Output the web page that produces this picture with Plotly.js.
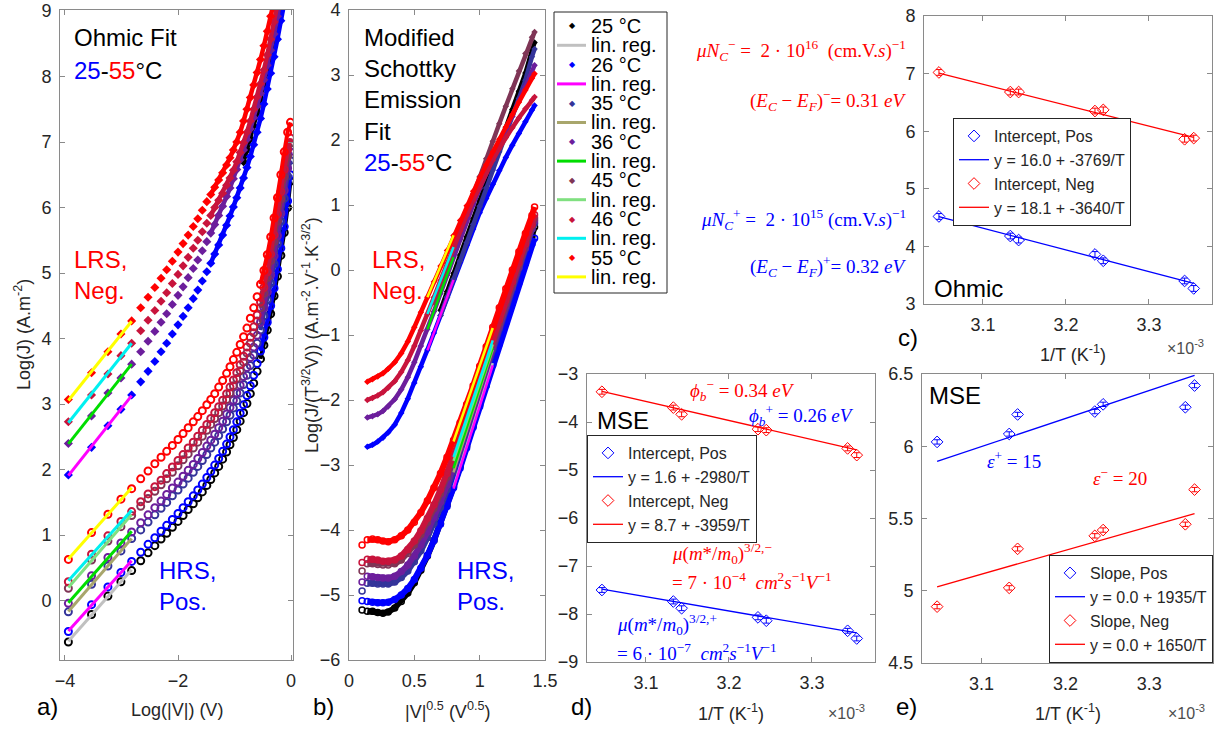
<!DOCTYPE html>
<html><head><meta charset="utf-8">
<script src="https://cdn.plot.ly/plotly-3.0.1.min.js"></script>
<style>html,body{margin:0;padding:0;background:#fff}#chart{width:1227px;height:733px}</style>
</head><body><div id="chart"></div>
<script>
const W = 1227, H = 733;
const FONT = 'Liberation Sans, Arial, sans-serif';
const SERIF = 'Liberation Serif, Times New Roman, serif';

// ---------- categories ----------
const temps = ['25', '26', '35', '36', '45', '46', '55'];
const tempColors = ['#000000', '#0000ff', '#34349a', '#6c1e9c', '#7f3556', '#c8143c', '#ff0000'];
const regColors = ['#c0c0c0', '#ff00ff', '#a8a66c', '#00dd00', '#80e080', '#00f0f0', '#ffff00'];

// ---------- panel a: Log(J) vs Log(|V|) ----------
const aLogV = [-3.94,-3.53,-3.24,-3.01,-2.82,-2.66,-2.53,-2.41,-2.30,-2.20,-2.10,-2.00,-1.91,-1.82,-1.73,-1.65,-1.57,-1.49,-1.42,-1.35,-1.28,-1.21,-1.14,-1.08,-1.02,-0.96,-0.90,-0.84,-0.78,-0.72,-0.66,-0.60,-0.54,-0.48,-0.42,-0.36,-0.30,-0.24,-0.18,-0.12,-0.06,-0.01];
// LRS, negative polarity
const aLRS_25 = [null,null,null,null,null,null,null,null,null,null,null,null,null,null,null,null,null,null,null,null,null,null,null,null,null,null,null,6.70,6.88,7.05,7.25,7.45,7.66,7.88,8.12,8.37,8.60,8.86,9.12,null,null,null];
const aLRS_26 = [1.92,2.34,2.67,2.92,3.14,3.34,3.50,3.65,3.80,3.93,4.07,4.21,4.34,4.47,4.61,4.74,4.88,5.02,5.15,5.29,5.43,5.58,5.73,5.87,6.01,6.15,6.30,6.45,6.61,6.78,6.96,7.15,7.36,7.58,7.81,8.05,8.30,8.57,8.85,9.12,null,null];
const aLRS_36 = [2.40,2.82,3.17,3.40,3.61,3.80,3.96,4.11,4.25,4.38,4.52,4.66,4.79,4.93,5.07,5.20,5.34,5.48,5.61,5.74,5.88,6.02,6.17,6.30,6.44,6.58,6.73,6.88,7.04,7.20,7.37,7.55,7.74,7.95,8.17,8.40,8.65,8.92,9.20,null,null,null];
const aLRS_46 = [2.73,3.14,3.46,3.74,3.93,4.12,4.28,4.43,4.57,4.70,4.84,4.98,5.11,5.24,5.38,5.50,5.63,5.76,5.88,6.00,6.11,6.22,6.34,6.45,6.57,6.70,6.84,6.99,7.15,7.32,7.50,7.69,7.89,8.10,8.33,8.57,8.83,9.10,null,null,null,null];
const aLRS_55 = [3.07,3.48,3.80,4.07,4.27,4.47,4.63,4.78,4.92,5.05,5.18,5.32,5.45,5.58,5.71,5.83,5.96,6.09,6.20,6.31,6.42,6.53,6.65,6.76,6.88,7.00,7.15,7.32,7.50,7.68,7.87,8.06,8.26,8.47,8.69,8.92,9.15,null,null,null,null,null];
// HRS, positive polarity
const aHRS_25 = [-0.63,-0.21,0.07,0.29,0.46,0.61,0.73,0.84,0.94,1.03,1.12,1.21,1.30,1.39,1.48,1.57,1.66,1.76,1.85,1.95,2.05,2.16,2.27,2.38,2.49,2.61,2.74,2.87,3.01,3.16,3.32,3.50,3.69,3.90,4.13,4.38,4.65,4.95,5.27,5.62,6.00,6.40];
const aHRS_26 = [-0.47,-0.06,0.21,0.43,0.60,0.74,0.86,0.96,1.06,1.15,1.24,1.33,1.42,1.51,1.60,1.69,1.78,1.88,1.97,2.07,2.17,2.28,2.39,2.50,2.61,2.73,2.86,2.99,3.13,3.28,3.44,3.62,3.81,4.02,4.25,4.50,4.77,5.06,5.38,5.71,6.10,6.50];
const aHRS_35 = [-0.17,0.25,0.53,0.76,0.95,1.08,1.20,1.31,1.41,1.50,1.60,1.69,1.78,1.87,1.96,2.05,2.14,2.23,2.33,2.42,2.52,2.62,2.73,2.83,2.94,3.05,3.17,3.30,3.44,3.59,3.75,3.93,4.13,4.35,4.59,4.85,5.14,5.45,5.79,6.14,6.48,6.72];
const aHRS_36 = [-0.04,0.38,0.66,0.88,1.05,1.19,1.31,1.42,1.52,1.62,1.72,1.81,1.90,1.99,2.08,2.17,2.26,2.36,2.45,2.54,2.64,2.74,2.85,2.95,3.06,3.17,3.29,3.42,3.56,3.71,3.87,4.05,4.25,4.47,4.71,4.97,5.26,5.57,5.91,6.26,6.60,6.85];
const aHRS_45 = [0.19,0.62,0.91,1.13,1.30,1.44,1.56,1.67,1.77,1.86,1.96,2.06,2.15,2.24,2.33,2.42,2.51,2.60,2.69,2.78,2.87,2.97,3.07,3.17,3.28,3.39,3.51,3.64,3.78,3.93,4.09,4.27,4.47,4.69,4.93,5.19,5.48,5.79,6.13,6.47,6.78,6.98];
const aHRS_46 = [0.29,0.71,0.99,1.21,1.36,1.51,1.63,1.74,1.84,1.94,2.04,2.14,2.23,2.33,2.42,2.51,2.60,2.69,2.78,2.87,2.96,3.06,3.16,3.26,3.37,3.48,3.60,3.73,3.87,4.02,4.18,4.36,4.56,4.78,5.02,5.29,5.58,5.90,6.24,6.58,6.88,7.06];
const aHRS_55 = [0.63,1.04,1.32,1.55,1.71,1.86,1.98,2.09,2.19,2.28,2.37,2.46,2.55,2.64,2.73,2.81,2.90,2.99,3.07,3.16,3.26,3.36,3.47,3.57,3.68,3.79,3.91,4.03,4.16,4.31,4.47,4.64,4.83,5.04,5.28,5.55,5.84,6.15,6.50,6.85,7.15,7.30];
const aFitRange = [-3.94, -2.82];

// ---------- panel b: Log(J/(T^3/2 V)) vs |V|^0.5 ----------
const bSqrtV = [0.10,0.14,0.18,0.22,0.26,0.30,0.35,0.40,0.45,0.50,0.55,0.60,0.65,0.70,0.75,0.80,0.85,0.90,0.95,1.00,1.05,1.10,1.15,1.20,1.25,1.30,1.35,1.40,1.42];
const bLRS_25 = [null,null,null,null,null,null,null,null,null,null,null,null,null,-0.62,-0.33,-0.05,0.23,0.51,0.79,1.07,1.35,1.63,1.91,2.19,2.47,2.75,3.03,3.38,3.50];
const bLRS_26 = [null,-2.72,-2.69,-2.64,-2.58,-2.50,-2.38,-2.20,-1.98,-1.74,-1.49,-1.23,-0.97,-0.70,-0.42,-0.15,0.12,0.38,0.63,0.88,1.10,1.32,1.53,1.73,1.92,2.10,2.28,2.46,2.53];
const bLRS_35 = [null,null,null,null,null,null,null,null,null,null,null,null,null,-0.70,-0.42,-0.14,0.14,0.42,0.70,0.98,1.26,1.54,1.82,2.10,2.37,2.64,2.92,3.28,3.40];
const bLRS_36 = [null,-2.27,-2.25,-2.22,-2.17,-2.10,-1.99,-1.84,-1.65,-1.42,-1.17,-0.91,-0.64,-0.36,-0.08,0.20,0.47,0.74,1.00,1.25,1.49,1.72,1.94,2.15,2.36,2.60,2.82,3.05,3.15];
const bLRS_45 = [null,null,null,null,null,null,null,null,null,null,null,null,-0.50,-0.22,0.06,0.34,0.62,0.90,1.17,1.44,1.71,1.98,2.25,2.52,2.79,3.06,3.33,3.58,3.66];
const bLRS_46 = [null,-2.00,-1.97,-1.93,-1.88,-1.81,-1.71,-1.57,-1.39,-1.17,-0.93,-0.68,-0.42,-0.16,0.10,0.35,0.60,0.84,1.07,1.29,1.50,1.69,1.87,2.04,2.19,2.34,2.48,2.61,2.66];
const bLRS_55 = [null,-1.72,-1.68,-1.64,-1.59,-1.52,-1.42,-1.28,-1.10,-0.88,-0.65,-0.42,-0.18,0.06,0.30,0.53,0.76,0.99,1.21,1.42,1.62,1.82,2.01,2.20,2.39,2.58,2.77,2.95,3.02];
const bHRS_25 = [-5.23,-5.25,-5.25,-5.27,-5.28,-5.26,-5.20,-5.10,-4.97,-4.81,-4.62,-4.40,-4.16,-3.90,-3.62,-3.33,-3.02,-2.71,-2.39,-2.07,-1.75,-1.43,-1.11,-0.80,-0.49,-0.14,0.18,0.52,0.66];
const bHRS_26 = [-5.09,-5.10,-5.11,-5.12,-5.12,-5.11,-5.07,-5.00,-4.90,-4.76,-4.59,-4.39,-4.16,-3.91,-3.64,-3.35,-3.05,-2.74,-2.42,-2.10,-1.78,-1.46,-1.14,-0.82,-0.51,-0.20,0.10,0.40,0.49];
const bHRS_35 = [-4.94,-4.82,-4.82,-4.83,-4.83,-4.83,-4.80,-4.73,-4.63,-4.49,-4.32,-4.12,-3.90,-3.65,-3.38,-3.10,-2.80,-2.49,-2.18,-1.86,-1.54,-1.22,-0.90,-0.59,-0.28,0.03,0.33,0.63,0.72];
const bHRS_36 = [-4.80,-4.71,-4.72,-4.73,-4.74,-4.74,-4.71,-4.64,-4.54,-4.40,-4.23,-4.03,-3.81,-3.57,-3.31,-3.03,-2.74,-2.44,-2.13,-1.82,-1.50,-1.18,-0.87,-0.56,-0.26,0.04,0.34,0.64,0.76];
const bHRS_45 = [-4.63,-4.52,-4.52,-4.53,-4.54,-4.54,-4.52,-4.46,-4.36,-4.23,-4.07,-3.88,-3.67,-3.44,-3.19,-2.92,-2.64,-2.35,-2.05,-1.75,-1.44,-1.13,-0.82,-0.52,-0.22,0.08,0.38,0.68,0.80];
const bHRS_46 = [-4.50,-4.45,-4.45,-4.46,-4.48,-4.48,-4.46,-4.40,-4.30,-4.17,-4.01,-3.82,-3.61,-3.38,-3.13,-2.86,-2.58,-2.29,-1.99,-1.69,-1.38,-1.07,-0.77,-0.47,-0.18,0.11,0.40,0.70,0.85];
const bHRS_55 = [-4.23,-4.15,-4.14,-4.15,-4.17,-4.18,-4.15,-4.09,-4.00,-3.88,-3.73,-3.55,-3.35,-3.13,-2.88,-2.62,-2.35,-2.07,-1.78,-1.48,-1.18,-0.88,-0.58,-0.29,0.00,0.28,0.56,0.84,0.97];
const bFitRangeLRS = [0.60, 0.80];
const bFitRangeHRS = [0.80, 1.10];

// ---------- panels c, d, e: Arrhenius plots (1/T in 1e-3 K^-1) ----------
const invT = [3.047, 3.133, 3.143, 3.235, 3.245, 3.343, 3.354];
const ohmicPos = [4.52, 4.18, 4.11, 3.86, 3.75, 3.40, 3.27];
const ohmicNeg = [7.02, 6.68, 6.68, 6.35, 6.37, 5.86, 5.88];
const ohmicErr = [0.05, 0.05, 0.05, 0.05, 0.05, 0.05, 0.05];
const ohmicFitA = [16.0, 18.1];
const ohmicFitB = [-3769, -3640];
const mseIntPos = [-7.50, -7.74, -7.88, -8.07, -8.14, -8.35, -8.51];
const mseIntNeg = [-3.37, -3.70, -3.84, -4.15, -4.17, -4.55, -4.69];
const mseIntErr = [0.05, 0.05, 0.05, 0.05, 0.05, 0.05, 0.05];
const mseIntFitA = [1.6, 8.7];
const mseIntFitB = [-2980, -3959];
const mseSlopePos = [6.03, 6.085, 6.22, 6.24, 6.29, 6.27, 6.42];
const mseSlopeNeg = [4.89, 5.02, 5.29, 5.38, 5.42, 5.46, 5.70];
const mseSlopeErr = [0.015, 0.015, 0.015, 0.015, 0.015, 0.015, 0.015];
const mseSlopeFitA = [0.0, 0.0];
const mseSlopeFitB = [1935, 1650];

// ---------- helpers ----------
const X = p => p / W;
const Y = p => 1 - p / H;

function linreg(xs, ys, lo, hi) {
  const px = [], py = [];
  xs.forEach((x, i) => { if (ys[i] != null && x >= lo - 1e-9 && x <= hi + 1e-9) { px.push(x); py.push(ys[i]); } });
  const n = px.length;
  const mx = px.reduce((s, v) => s + v, 0) / n, my = py.reduce((s, v) => s + v, 0) / n;
  let sxy = 0, sxx = 0;
  for (let i = 0; i < n; i++) { sxy += (px[i] - mx) * (py[i] - my); sxx += (px[i] - mx) ** 2; }
  const b = sxy / sxx, a = my - b * mx;
  const x0 = Math.min(...px), x1 = Math.max(...px);
  return { x: [x0, x1], y: [a + b * x0, a + b * x1] };
}
function sliceFrom(xs, ys, xmin) {
  const ox = [], oy = [];
  xs.forEach((x, i) => { if (x >= xmin && ys[i] != null) { ox.push(x); oy.push(ys[i]); } });
  return { x: ox, y: oy };
}

const traces = [];

// panel a
const aLRS = [aLRS_25, aLRS_26, null, aLRS_36, null, aLRS_46, aLRS_55];
const aHRS = [aHRS_25, aHRS_26, aHRS_35, aHRS_36, aHRS_45, aHRS_46, aHRS_55];
temps.forEach((t, i) => {
  const hy = aHRS[i];
  const hl = sliceFrom(aLogV, hy, -0.56);
  traces.push({ x: hl.x, y: hl.y, xaxis: 'x', yaxis: 'y', mode: 'lines', line: { color: tempColors[i], width: 4 }, showlegend: false, hoverinfo: 'skip' });
  traces.push({ x: aLogV, y: hy, xaxis: 'x', yaxis: 'y', mode: 'markers', marker: { symbol: 'circle-open', size: 7, color: tempColors[i], line: { width: 2, color: tempColors[i] } }, showlegend: false, name: t + ' °C HRS' });
});
temps.forEach((t, i) => {
  const ly = aLRS[i];
  if (!ly) return;
  const ll = sliceFrom(aLogV, ly, -1.43);
  traces.push({ x: ll.x, y: ll.y, xaxis: 'x', yaxis: 'y', mode: 'lines', line: { color: tempColors[i], width: 4.5 }, showlegend: false, hoverinfo: 'skip' });
  traces.push({ x: aLogV, y: ly, xaxis: 'x', yaxis: 'y', mode: 'markers', marker: { symbol: 'diamond', size: 7, color: tempColors[i] }, showlegend: false, name: t + ' °C LRS' });
});
temps.forEach((t, i) => {
  const r = linreg(aLogV, aHRS[i], aFitRange[0], aFitRange[1]);
  traces.push({ x: r.x, y: r.y, xaxis: 'x', yaxis: 'y', mode: 'lines', line: { color: regColors[i], width: 3 }, showlegend: false, name: 'lin. reg.' });
  if (aLRS[i] && aLRS[i][0] != null) {
    const r2 = linreg(aLogV, aLRS[i], aFitRange[0], aFitRange[1]);
    traces.push({ x: r2.x, y: r2.y, xaxis: 'x', yaxis: 'y', mode: 'lines', line: { color: regColors[i], width: 3 }, showlegend: false, name: 'lin. reg.' });
  }
});

// panel b
const bLRS = [bLRS_25, bLRS_26, bLRS_35, bLRS_36, bLRS_45, bLRS_46, bLRS_55];
const bHRS = [bHRS_25, bHRS_26, bHRS_35, bHRS_36, bHRS_45, bHRS_46, bHRS_55];
temps.forEach((t, i) => {
  const hl = sliceFrom(bSqrtV, bHRS[i], 0.14);
  traces.push({ x: hl.x, y: hl.y, xaxis: 'x2', yaxis: 'y2', mode: 'lines', line: { color: tempColors[i], width: 6 }, showlegend: false, hoverinfo: 'skip' });
  traces.push({ x: bSqrtV, y: bHRS[i], xaxis: 'x2', yaxis: 'y2', mode: 'markers', marker: { symbol: 'circle-open', size: 6, color: tempColors[i], line: { width: 1.5, color: tempColors[i] } }, showlegend: false, name: t + ' °C HRS' });
});
temps.forEach((t, i) => {
  const ll = sliceFrom(bSqrtV, bLRS[i], 0.0);
  traces.push({ x: ll.x, y: ll.y, xaxis: 'x2', yaxis: 'y2', mode: 'lines+markers', line: { color: tempColors[i], width: 4.5 }, marker: { symbol: 'diamond', size: 5, color: tempColors[i] }, showlegend: false, name: t + ' °C LRS' });
});
temps.forEach((t, i) => {
  const r = linreg(bSqrtV, bHRS[i], bFitRangeHRS[0], bFitRangeHRS[1]);
  traces.push({ x: r.x, y: r.y, xaxis: 'x2', yaxis: 'y2', mode: 'lines', line: { color: regColors[i], width: 2.5 }, showlegend: false, name: 'lin. reg.' });
  const idx = bSqrtV.findIndex(v => Math.abs(v - bFitRangeLRS[0]) < 1e-9);
  if (bLRS[i][idx] != null) {
    const r2 = linreg(bSqrtV, bLRS[i], bFitRangeLRS[0], bFitRangeLRS[1]);
    traces.push({ x: r2.x, y: r2.y, xaxis: 'x2', yaxis: 'y2', mode: 'lines', line: { color: regColors[i], width: 2.5 }, showlegend: false, name: 'lin. reg.' });
  }
});

// panels c, d, e
function arrhenius(ax, ay, leg, label, pos, neg, err, A, B) {
  const xr = [Math.min(...invT), Math.max(...invT)];
  const sets = [[pos, '#0000ff', ', Pos', 0], [neg, '#ff0000', ', Neg', 1]];
  sets.forEach(([ys, col, suf, k]) => {
    traces.push({ x: invT, y: ys, xaxis: ax, yaxis: ay, mode: 'markers', name: label + suf, legend: leg,
      marker: { symbol: 'diamond-open', size: 9, color: col, line: { width: 1, color: col } },
      error_y: { type: 'data', array: err, visible: true, color: col, thickness: 1, width: 3 } });
    traces.push({ x: xr, y: xr.map(x => A[k] + B[k] * x / 1000), xaxis: ax, yaxis: ay, mode: 'lines', legend: leg,
      name: 'y = ' + A[k].toFixed(1) + ' + ' + B[k] + '/T', line: { color: col, width: 1.3 } });
  });
}
arrhenius('x3', 'y3', 'legend', 'Intercept', ohmicPos, ohmicNeg, ohmicErr, ohmicFitA, ohmicFitB);
arrhenius('x4', 'y4', 'legend2', 'Intercept', mseIntPos, mseIntNeg, mseIntErr, mseIntFitA, mseIntFitB);
arrhenius('x5', 'y5', 'legend3', 'Slope', mseSlopePos, mseSlopeNeg, mseSlopeErr, mseSlopeFitA, mseSlopeFitB);

// ---------- axes ----------
const axBase = {
  showgrid: false, zeroline: false, showline: true, mirror: 'ticks', linecolor: '#8a8a8a', linewidth: 1,
  ticks: 'inside', ticklen: 5, tickcolor: '#8a8a8a', ticklabelstandoff: 4,
  tickfont: { family: FONT, size: 18, color: '#262626' }, fixedrange: true
};
const ax = (o) => Object.assign({}, axBase, o);
const invTicks = { tickvals: [3.1, 3.2, 3.3], ticktext: ['3.1', '3.2', '3.3'], range: [3.029, 3.376] };
const legFont = { family: FONT, size: 16, color: '#262626' };

const layout = {
  width: W, height: H, margin: { l: 0, r: 0, t: 0, b: 0 }, paper_bgcolor: '#fff', plot_bgcolor: '#fff',
  showlegend: true, hovermode: false,
  xaxis: ax({ domain: [X(60), X(293)], range: [-4.088, 0.035], tickvals: [-4, -2, 0], anchor: 'y' }),
  yaxis: ax({ domain: [Y(660), Y(10)], range: [-0.905, 9.015], tickvals: [0, 1, 2, 3, 4, 5, 6, 7, 8, 9], anchor: 'x' }),
  xaxis2: ax({ domain: [X(349), X(545)], range: [0, 1.5], tickvals: [0, 0.5, 1, 1.5], anchor: 'y2' }),
  yaxis2: ax({ domain: [Y(660), Y(10)], range: [-6, 4], tickvals: [-6, -5, -4, -3, -2, -1, 0, 1, 2, 3, 4], anchor: 'x2' }),
  xaxis3: ax(Object.assign({ domain: [X(924), X(1212)], anchor: 'y3' }, invTicks)),
  yaxis3: ax({ domain: [Y(304), Y(16)], range: [3, 8], tickvals: [3, 4, 5, 6, 7, 8], anchor: 'x3' }),
  xaxis4: ax(Object.assign({ domain: [X(587), X(875)], anchor: 'y4' }, invTicks)),
  yaxis4: ax({ domain: [Y(662), Y(374)], range: [-9, -3], tickvals: [-9, -8, -7, -6, -5, -4, -3], anchor: 'x4' }),
  xaxis5: ax(Object.assign({ domain: [X(922), X(1213)], anchor: 'y5' }, invTicks)),
  yaxis5: ax({ domain: [Y(663), Y(374)], range: [4.5, 6.5], tickvals: [4.5, 5, 5.5, 6, 6.5], ticktext: ['4.5', '5', '5.5', '6', '6.5'], anchor: 'x5' }),
  legend: { x: X(953), y: Y(118), xanchor: 'left', yanchor: 'top', bgcolor: '#fff', bordercolor: '#262626', borderwidth: 1, font: legFont, tracegroupgap: 0 },
  legend2: { x: X(587), y: Y(435), xanchor: 'left', yanchor: 'top', bgcolor: '#fff', bordercolor: '#262626', borderwidth: 1, font: legFont, tracegroupgap: 0 },
  legend3: { x: X(1213), y: Y(663), xanchor: 'right', yanchor: 'bottom', bgcolor: '#fff', bordercolor: '#262626', borderwidth: 1, font: legFont, tracegroupgap: 0 },
  shapes: [], annotations: []
};

function ann(text, px, py, o) {
  o = o || {};
  return { xref: 'paper', yref: 'paper', x: X(px), y: Y(py), text: text, showarrow: false,
    xanchor: o.xanchor || 'left', yanchor: o.yanchor || 'middle', textangle: o.textangle || 0, align: o.align || 'left',
    font: { family: o.family || FONT, size: o.size || 24, color: o.color || '#000' } };
}
const A = layout.annotations;
const rangeTxt = '<span style="color:#0000ff">25</span>-<span style="color:#ff0000">55</span>°C';
// panel a texts
A.push(ann('Ohmic Fit', 72, 38));
A.push(ann(rangeTxt, 72, 70));
A.push(ann('LRS,<br>Neg.', 72, 275, { color: '#ff0000' }));
A.push(ann('HRS,<br>Pos.', 157, 586, { color: '#0000ff' }));
// panel b texts
A.push(ann('Modified<br>Schottky<br>Emission<br>Fit<br>' + rangeTxt, 362, 100));
A.push(ann('LRS,<br>Neg.', 370, 275, { color: '#ff0000' }));
A.push(ann('HRS,<br>Pos.', 455, 586, { color: '#0000ff' }));
// axis titles
A.push(ann('Log(J) (A.m<sup>-2</sup>)', 22, 335, { xanchor: 'center', textangle: -90, size: 18, color: '#262626' }));
A.push(ann('Log(|V|) (V)', 177, 710, { xanchor: 'center', size: 18, color: '#262626' }));
A.push(ann('Log(J/(T<sup>3/2</sup>V)) (A.m<sup>-2</sup>.V<sup>-1</sup>.K<sup>-3/2</sup>)', 310, 335, { xanchor: 'center', textangle: -90, size: 18, color: '#262626' }));
A.push(ann('|V|<sup>0.5</sup> (V<sup>0.5</sup>)', 447, 710, { xanchor: 'center', size: 18, color: '#262626' }));
A.push(ann('1/T (K<sup>-1</sup>)', 1073, 353, { xanchor: 'center', size: 18, color: '#262626' }));
A.push(ann('1/T (K<sup>-1</sup>)', 731, 712, { xanchor: 'center', size: 18, color: '#262626' }));
A.push(ann('1/T (K<sup>-1</sup>)', 1068, 712, { xanchor: 'center', size: 18, color: '#262626' }));
A.push(ann('×10<sup>-3</sup>', 1165, 347, { size: 16, color: '#4d4d4d' }));
A.push(ann('×10<sup>-3</sup>', 826, 712, { size: 16, color: '#4d4d4d' }));
A.push(ann('×10<sup>-3</sup>', 1166, 712, { size: 16, color: '#4d4d4d' }));
// panel labels
A.push(ann('a)', 35, 706));
A.push(ann('b)', 311, 706));
A.push(ann('c)', 896, 338));
A.push(ann('d)', 569, 706));
A.push(ann('e)', 894, 706));
// in-panel labels
A.push(ann('Ohmic', 932, 288));
A.push(ann('MSE', 595, 420));
A.push(ann('MSE', 927, 395));
// equations
const sm = { family: SERIF, size: 19 };
A.push(ann('<i>μN</i><sub><i>C</i></sub><sup>−</sup> =  2 · 10<sup>16</sup>  (cm.V.<i>s</i>)<sup>−1</sup>', 908, 50, Object.assign({ xanchor: 'right', color: '#ff0000' }, sm)));
A.push(ann('(<i>E</i><sub><i>C</i></sub> − <i>E</i><sub><i>F</i></sub>)<sup>−</sup>= 0.31 <i>eV</i>', 908, 100, Object.assign({ xanchor: 'right', color: '#ff0000' }, sm)));
A.push(ann('<i>μN</i><sub><i>C</i></sub><sup>+</sup> =  2 · 10<sup>15</sup> (cm.V.<i>s</i>)<sup>−1</sup>', 908, 219, Object.assign({ xanchor: 'right', color: '#0000ff' }, sm)));
A.push(ann('(<i>E</i><sub><i>C</i></sub> − <i>E</i><sub><i>F</i></sub>)<sup>+</sup>= 0.32 <i>eV</i>', 908, 266, Object.assign({ xanchor: 'right', color: '#0000ff' }, sm)));
A.push(ann('<i>ϕ</i><sub><i>b</i></sub><sup>−</sup> = 0.34 <i>eV</i>', 688, 390, Object.assign({ color: '#ff0000' }, sm)));
A.push(ann('<i>ϕ</i><sub><i>b</i></sub><sup>+</sup> = 0.26 <i>eV</i>', 747, 415, Object.assign({ color: '#0000ff' }, sm)));
A.push(ann('<i>μ</i>(<i>m</i>*/<i>m</i><sub>0</sub>)<sup>3/2,−</sup>', 670, 553, Object.assign({ color: '#ff0000' }, sm)));
A.push(ann('= 7 · 10<sup>−4</sup>  <i>cm</i><sup>2</sup><i>s</i><sup>−1</sup><i>V</i><sup>−1</sup>', 670, 581, Object.assign({ color: '#ff0000' }, sm)));
A.push(ann('<i>μ</i>(<i>m</i>*/<i>m</i><sub>0</sub>)<sup>3/2,+</sup>', 615, 624, Object.assign({ color: '#0000ff' }, sm)));
A.push(ann('= 6 · 10<sup>−7</sup>  <i>cm</i><sup>2</sup><i>s</i><sup>−1</sup><i>V</i><sup>−1</sup>', 615, 652, Object.assign({ color: '#0000ff' }, sm)));
A.push(ann('<i>ε</i><sup>+</sup> = 15', 985, 460, Object.assign({ color: '#0000ff' }, sm)));
A.push(ann('<i>ε</i><sup>−</sup> = 20', 1091, 477, Object.assign({ color: '#ff0000' }, sm)));

// big legend for panels a/b (temperatures and their regression lines)
const S = layout.shapes;
S.push({ type: 'rect', xref: 'paper', yref: 'paper', x0: X(554), x1: X(667), y0: Y(293), y1: Y(12), line: { color: '#262626', width: 1 }, fillcolor: '#fff' });
temps.forEach((t, i) => {
  const rowT = 26 + (2 * i) * 19.3, rowR = 26 + (2 * i + 1) * 19.3;
  A.push(ann('◆', 572, rowT, { xanchor: 'center', size: 8, color: tempColors[i], family: 'DejaVu Sans' }));
  A.push(ann(t + ' °C', 589, rowT, { size: 20 }));
  S.push({ type: 'line', xref: 'paper', yref: 'paper', x0: X(557), x1: X(586), y0: Y(rowR), y1: Y(rowR), line: { color: regColors[i], width: 3 } });
  A.push(ann('lin. reg.', 589, rowR, { size: 20 }));
});

Plotly.newPlot('chart', traces, layout, { displayModeBar: false, staticPlot: true });
</script>
</body></html>
